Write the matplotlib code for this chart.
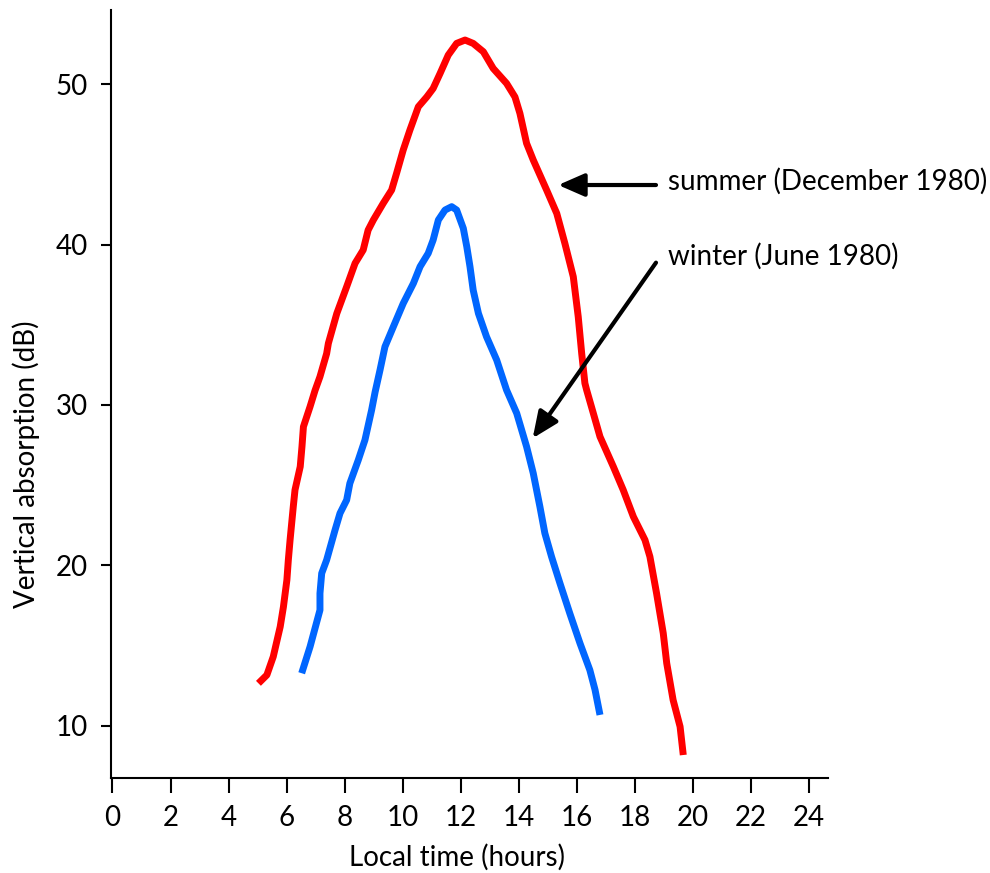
import matplotlib
matplotlib.use("Agg")
import matplotlib.pyplot as plt

plt.rcParams["font.family"] = ["Lato", "DejaVu Sans"]

summer_t = [5.03, 5.32, 5.54, 5.78, 5.89, 6.01, 6.06, 6.12, 6.23, 6.29, 6.47, 6.53,
            6.58, 6.81, 6.98, 7.15, 7.38, 7.44, 7.73, 8.07, 8.36, 8.64, 8.81, 8.99,
            9.33, 9.62, 9.79, 10.02, 10.25, 10.54, 10.83, 11.05, 11.29, 11.57, 11.86,
            12.15, 12.43, 12.78, 13.12, 13.58, 13.87, 14.04, 14.27, 14.50, 14.96,
            15.31, 15.59, 15.88, 16.05, 16.17, 16.28, 16.34, 16.57, 16.80, 17.26,
            17.60, 17.95, 18.35, 18.52, 18.75, 18.98, 19.10, 19.32, 19.56, 19.67]
summer_db = [12.64, 13.16, 14.3, 16.17, 17.4, 19.08, 20.33, 21.58, 23.65, 24.7, 26.15,
             27.4, 28.64, 29.9, 30.9, 31.76, 33.2, 33.84, 35.7, 37.37, 38.83, 39.66,
             40.9, 41.53, 42.57, 43.4, 44.44, 45.9, 47.14, 48.59, 49.2, 49.73, 50.67,
             51.81, 52.54, 52.75, 52.54, 52.02, 50.98, 50.05, 49.2, 48.18, 46.31,
             45.27, 43.4, 41.94, 40.07, 37.99, 35.5, 33.2, 31.35, 30.93, 29.48, 28.02,
             26.15, 24.7, 23.03, 21.58, 20.54, 18.25, 15.76, 13.89, 11.6, 9.94, 8.17]

winter_t = [6.52, 6.81, 7.15, 7.15, 7.21, 7.38, 7.67, 7.84, 8.07, 8.18, 8.47, 8.70,
            8.93, 9.05, 9.22, 9.39, 9.68, 10.02, 10.37, 10.60, 10.88, 11.05, 11.23,
            11.46, 11.69, 11.86, 12.09, 12.21, 12.32, 12.43, 12.61, 12.89, 13.24,
            13.58, 13.93, 14.27, 14.50, 14.73, 14.90, 15.13, 15.42, 15.76, 16.11,
            16.45, 16.63, 16.80]
winter_db = [13.27, 14.93, 17.21, 18.25, 19.5, 20.33, 22.2, 23.24, 24.07, 25.11, 26.56,
             27.81, 29.68, 30.8, 32.18, 33.63, 34.88, 36.33, 37.58, 38.62, 39.45, 40.28,
             41.53, 42.15, 42.36, 42.15, 41.01, 39.86, 38.62, 37.16, 35.71, 34.25, 32.8,
             30.93, 29.48, 27.4, 25.74, 23.65, 22.0, 20.54, 18.88, 17.0, 15.14, 13.47,
             12.23, 10.67]

xticks = list(range(0, 25, 2))
yticks = [10, 20, 30, 40, 50]

fig = plt.figure(figsize=(9.9, 8.73), dpi=100)
ax = fig.add_axes([0.1118, 0.1085, 0.7242, 0.880])

ax.plot(summer_t, summer_db, color="#ff0000", lw=5, solid_capstyle="butt",
        solid_joinstyle="round")
ax.plot(winter_t, winter_db, color="#0066ff", lw=5, solid_capstyle="butt",
        solid_joinstyle="round")

ax.set_xlim(-0.062, 24.645)
ax.set_ylim(6.72, 54.62)
ax.set_xticks(xticks)
ax.set_yticks(yticks)
ax.tick_params(axis="x", length=11, width=1.5, pad=8, labelsize=20)
ax.tick_params(axis="y", length=7.5, width=1.5, pad=9, labelsize=20)
for side in ("top", "right"):
    ax.spines[side].set_visible(False)
for side in ("left", "bottom"):
    ax.spines[side].set_linewidth(1.5)

ax.set_xlabel("Local time (hours)", fontsize=20)
ax.xaxis.set_label_coords(0.4837, -0.086)
ax.set_ylabel("Vertical absorption (dB)", fontsize=20)
ax.yaxis.set_label_coords(-0.098, 0.409)

# labelled arrows pointing at each curve
arrow = dict(arrowstyle="-|>,head_length=0.8,head_width=0.35", color="black",
             lw=3, shrinkA=0, shrinkB=0, mutation_scale=20)
ax.annotate("", xy=(15.36, 43.71), xytext=(18.73, 43.71), arrowprops=arrow)
ax.annotate("", xy=(14.48, 27.92), xytext=(18.73, 38.87), arrowprops=arrow)
ax.text(19.14, 43.92, "summer (December 1980)", fontsize=20, va="center", ha="left")
ax.text(19.14, 39.24, "winter (June 1980)", fontsize=20, va="center", ha="left")

fig.savefig("out.png", dpi=100)
